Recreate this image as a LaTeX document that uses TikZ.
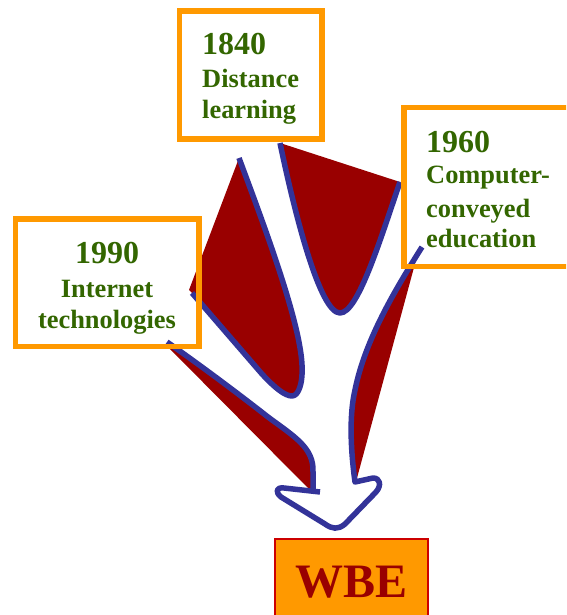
\documentclass[tikz,border=0pt]{standalone}
\usepackage{fontspec}
\setmainfont{Liberation Serif}
\definecolor{boxorange}{HTML}{FF9900}
\definecolor{shadered}{HTML}{990000}
\definecolor{arrowblue}{HTML}{333399}
\definecolor{labelgreen}{HTML}{336600}
\definecolor{wbeborder}{HTML}{CC0000}
\begin{document}
\begin{tikzpicture}[x=1pt,y=-1pt,
  box/.style={draw=boxorange,line width=5.6pt,inner sep=0pt,outer sep=0pt,anchor=north west},
  shadow/.style={fill=shadered},
  outline/.style={draw=arrowblue,line width=5.5pt,line join=round},
  yr/.style={text=labelgreen,font=\bfseries\fontsize{32}{32}\selectfont,inner sep=0pt},
  lbl/.style={text=labelgreen,font=\bfseries\fontsize{26.4}{30}\selectfont,inner sep=0pt}]
\useasboundingbox (0,0) rectangle (566,615);
\clip (0,0) rectangle (566,615);
\fill[white] (0,0) rectangle (566,615);

% dark red shadows
\path[shadow] (239,158) .. controls (262,220) and (300,320) .. (302,365)
  .. controls (303,385) and (298,396) .. (292,396)
  .. controls (285,396) and (275,388) .. (262,374) -- (192,293) -- (189,290) -- cycle;
\path[shadow] (280,143) .. controls (295,215) and (320,313) .. (340,313)
  .. controls (358,313) and (380,240) .. (400,182) -- cycle;
\path[shadow] (422,247) .. controls (395,290) and (365,340) .. (355,390)
  .. controls (348,420) and (352,460) .. (355,482) -- (357,478) -- (416,260) -- cycle;
\path[shadow] (167,342) .. controls (200,365) and (240,395) .. (268,417)
  .. controls (295,437) and (314,448) .. (313,472) -- (313,489) -- (308,488) -- (168,347) -- cycle;

% blue outline of the arrow
\draw[outline] (239,158) .. controls (262,220) and (300,320) .. (302,365)
  .. controls (303,385) and (298,396) .. (292,396)
  .. controls (285,396) and (275,388) .. (262,374) -- (192,293);
\draw[outline] (280,143) .. controls (295,215) and (320,313) .. (340,313)
  .. controls (358,313) and (380,240) .. (400,182);
\draw[outline] (167,342) .. controls (200,365) and (240,395) .. (268,417)
  .. controls (295,437) and (314,448) .. (313,472) -- (313,489);
\draw[outline] (320,492) -- (284,488) .. controls (276,487) and (275,492) .. (281,497)
  -- (325,524) .. controls (332,529) and (338,530) .. (345,524)
  -- (376,492) .. controls (382,485) and (380,478) .. (373,478) -- (355,482)
  .. controls (352,460) and (348,420) .. (355,390)
  .. controls (365,340) and (395,290) .. (422,247);

% boxes
\node[box,minimum width=142.5pt,minimum height=128pt] (box1840) at (179.5,11) {};
\node[box,minimum width=180pt,minimum height=159pt] (box1960) at (404,107.5) {};
\node[box,minimum width=183.4pt,minimum height=127.3pt] (box1990) at (15.3,219) {};
\node[draw=wbeborder,fill=boxorange,line width=2pt,inner sep=0pt,outer sep=0pt,anchor=north west,
  minimum width=153pt,minimum height=100pt] (boxwbe) at (275,539) {};

% labels
\node[yr,anchor=base west] (t1840) at (202,55) {1840};
\node[lbl,anchor=base west] (t1840a) at (202,88) {Distance};
\node[lbl,anchor=base west] (t1840b) at (202,118) {learning};

\node[yr,anchor=base west] (t1960) at (426,152) {1960};
\node[lbl,anchor=base west] (t1960a) at (426,183) {Computer-};
\node[lbl,anchor=base west] (t1960b) at (426,217) {conveyed};
\node[lbl,anchor=base west] (t1960c) at (426,247) {education};

\node[yr,anchor=base] (t1990) at (107,263) {1990};
\node[lbl,anchor=base] (t1990a) at (107,297) {Internet};
\node[lbl,anchor=base] (t1990b) at (107,328) {technologies};

\node[text=shadered,font=\bfseries\fontsize{48}{48}\selectfont,inner sep=0pt,anchor=base] (twbe) at (351.5,597) {WBE};
\end{tikzpicture}
\end{document}
